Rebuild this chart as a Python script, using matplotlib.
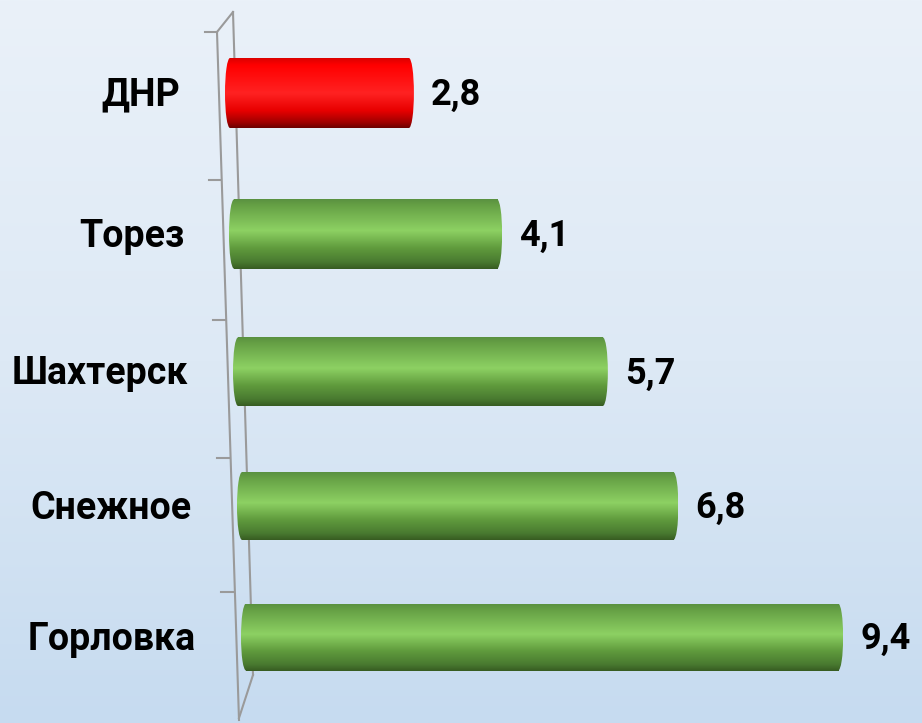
import numpy as np
import matplotlib
matplotlib.use('Agg')
import matplotlib.pyplot as plt
from matplotlib.colors import LinearSegmentedColormap
from matplotlib.patches import Ellipse, Rectangle

categories = ['ДНР', 'Торез', 'Шахтерск', 'Снежное', 'Горловка']
values = [2.8, 4.1, 5.7, 6.8, 9.4]
value_labels = ['2,8', '4,1', '5,7', '6,8', '9,4']
highlight = 'ДНР'

plt.rcParams['font.family'] = ['Roboto', 'DejaVu Sans']

W, H = 922, 723
fig = plt.figure(figsize=(W / 100, H / 100), dpi=100)
ax = fig.add_axes([0, 0, 1, 1])

PX = 65.5          # pixels per value unit
X0 = 225           # pixel of zero for first row


def dx(px):
    return (px - X0) / PX


def row_y(i):
    # perspective placement of category rows (pixel units, top-down)
    return 93 + 142.67 * i - 1.667 * i ** 2


xl = (dx(0), dx(W))
yl = (H, 0)

# background gradient
bg = LinearSegmentedColormap.from_list('bg', ['#eaf1f9', '#dde9f5', '#c6dbf0'])
grad = np.linspace(0, 1, 256).reshape(-1, 1)
ax.imshow(grad, cmap=bg, extent=(xl[0], xl[1], yl[0], yl[1]), origin='upper',
          aspect='auto', zorder=0)

# slanted "wall" of the 3D axis
wall_col = '#9a9a9a'
ax.plot([dx(217), dx(239)], [32, 720], color=wall_col, lw=1.5, zorder=1)
ax.plot([dx(233), dx(253)], [12, 675], color=wall_col, lw=1.5, zorder=1)
ax.plot([dx(217), dx(233)], [32, 12], color=wall_col, lw=1.5, zorder=1)
ax.plot([dx(253), dx(239)], [675, 718], color=wall_col, lw=1.5, zorder=1)
for ty in [32, 180, 320, 458, 592]:
    lx = 217 + (ty - 32) * 0.0286
    ax.plot([dx(lx - 12), dx(lx)], [ty, ty], color=wall_col, lw=1.5, zorder=1)

green = LinearSegmentedColormap.from_list(
    'g', [(0, '#5a9140'), (0.1, '#67a246'), (0.45, '#8dd163'), (0.7, '#609b3d'),
          (0.9, '#497a30'), (1, '#375c22')])
red = LinearSegmentedColormap.from_list(
    'r', [(0, '#dc0000'), (0.1, '#ff0000'), (0.5, '#ff2222'), (0.75, '#e80000'),
          (0.92, '#a00000'), (1, '#6c0000')])

n = len(categories)
ypos = np.array([row_y(i) for i in range(n)])
shift = np.array([dx(225 + 4 * i) for i in range(n)])
persp = np.array([1.03 - 0.013 * i for i in range(n)])
heights = np.array([70 - 0.75 * i for i in range(n)])
widths = np.array(values) * persp

bars = ax.barh(ypos, widths, left=shift, height=heights, color='none',
               edgecolor='none', zorder=2)
capw = 10 / PX
for i, b in enumerate(bars):
    cm = red if categories[i] == highlight else green
    h = heights[i]
    l, r = b.get_x(), b.get_x() + b.get_width()
    y0, y1 = ypos[i] - h / 2, ypos[i] + h / 2
    body = Rectangle((l + capw / 2, y0), (r - l) - capw, h, facecolor='none',
                     edgecolor='none', zorder=3)
    ax.add_patch(body)
    im = ax.imshow(grad, cmap=cm, extent=(l, r, y1, y0), origin='upper',
                   aspect='auto', zorder=3)
    im.set_clip_path(body)
    for cx in (l + capw / 2, r - capw / 2):
        e = Ellipse((cx, ypos[i]), capw, h, facecolor='none', edgecolor='none', zorder=3)
        ax.add_patch(e)
        imc = ax.imshow(grad, cmap=cm, extent=(cx - capw / 2, cx + capw / 2, y1, y0),
                        origin='upper', aspect='auto', zorder=3)
        imc.set_clip_path(e)
    ax.text(r + 17 / PX, ypos[i] + 2, value_labels[i], ha='left', va='center',
            fontsize=26, fontweight='bold', color='black', zorder=4)
    ax.text(dx(180 + 4 * i), ypos[i] + 2, categories[i], ha='right', va='center',
            fontsize=27, fontweight='bold', color='black', zorder=4)

ax.set_xlim(*xl)
ax.set_ylim(*yl)
ax.axis('off')
fig.savefig('out.png', dpi=100)
